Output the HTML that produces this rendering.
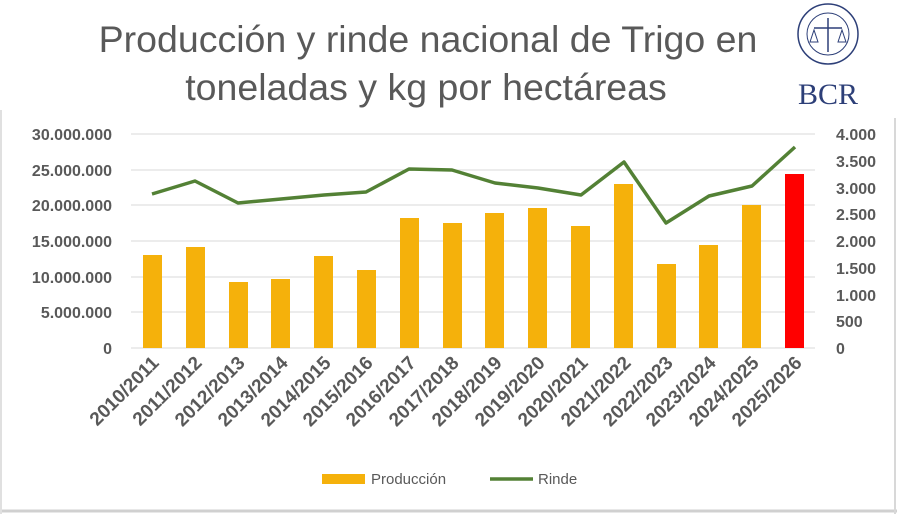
<!DOCTYPE html>
<html><head><meta charset="utf-8"><style>
body{margin:0;background:#fff;}
svg{display:block;font-family:"Liberation Sans",sans-serif;}
</style></head><body>
<svg width="897" height="514" viewBox="0 0 897 514">
<rect x="0" y="0" width="897" height="514" fill="#fff"/>
<line x1="0" y1="511" x2="897" y2="511" stroke="#d0d0d0" stroke-width="3"/>
<line x1="895" y1="0" x2="895" y2="514" stroke="#d8d8d8" stroke-width="2"/>
<line x1="1" y1="110" x2="1" y2="514" stroke="#e0e0e0" stroke-width="2"/>
<text x="428" y="52" text-anchor="middle" font-size="37.5" fill="#595959">Producción y rinde nacional de Trigo  en</text>
<text x="426" y="100" text-anchor="middle" font-size="37.5" fill="#595959">toneladas y kg por hectáreas</text>
<rect x="757" y="0" width="140" height="118" fill="#fff"/>
<g stroke="#2d3f78" fill="none">
<circle cx="828" cy="34" r="30" stroke-width="1.5"/>
<circle cx="828" cy="34" r="21" stroke-width="1"/>
<line x1="828" y1="18" x2="828" y2="52" stroke-width="1.5"/>
<line x1="814" y1="28" x2="842" y2="28" stroke-width="1.5"/>
<path d="M810 42 l4 -12 l4 12 z M838 42 l4 -12 l4 12 z" stroke-width="1"/>
</g>
<text x="828" y="104" text-anchor="middle" font-family="Liberation Serif,serif" font-size="30" fill="#2d3f78">BCR</text>
<g stroke="#d9d9d9" stroke-width="1">
<line x1="131" y1="134" x2="815" y2="134"/><line x1="131" y1="170" x2="815" y2="170"/>
<line x1="131" y1="205" x2="815" y2="205"/><line x1="131" y1="241" x2="815" y2="241"/>
<line x1="131" y1="277" x2="815" y2="277"/><line x1="131" y1="312" x2="815" y2="312"/>
<line x1="131" y1="348" x2="815" y2="348"/>
</g>
<g font-size="16" font-weight="bold" fill="#595959" text-anchor="end">
<text x="112" y="140">30.000.000</text><text x="112" y="176">25.000.000</text>
<text x="112" y="211">20.000.000</text><text x="112" y="247">15.000.000</text>
<text x="112" y="283">10.000.000</text><text x="112" y="318">5.000.000</text>
<text x="112" y="354">0</text>
</g>
<g font-size="16" font-weight="bold" fill="#595959">
<text x="836" y="140">4.000</text><text x="836" y="167">3.500</text>
<text x="836" y="194">3.000</text><text x="836" y="220">2.500</text>
<text x="836" y="247">2.000</text><text x="836" y="274">1.500</text>
<text x="836" y="301">1.000</text><text x="836" y="327">500</text>
<text x="836" y="354">0</text>
</g>
<g fill="#f5b10b">
<rect x="143" y="255" width="19" height="93"/>
<rect x="186" y="247" width="19" height="101"/>
<rect x="229" y="282" width="19" height="66"/>
<rect x="271" y="279" width="19" height="69"/>
<rect x="314" y="256" width="19" height="92"/>
<rect x="357" y="270" width="19" height="78"/>
<rect x="400" y="218" width="19" height="130"/>
<rect x="443" y="223" width="19" height="125"/>
<rect x="485" y="213" width="19" height="135"/>
<rect x="528" y="208" width="19" height="140"/>
<rect x="571" y="226" width="19" height="122"/>
<rect x="614" y="184" width="19" height="164"/>
<rect x="657" y="264" width="19" height="84"/>
<rect x="699" y="245" width="19" height="103"/>
<rect x="742" y="205" width="19" height="143"/>
</g>
<rect x="785" y="174" width="19" height="174" fill="#ff0000"/>
<polyline fill="none" stroke="#538135" stroke-width="3.5" stroke-linejoin="round" points="152,194 195,181 238,203 281,199 324,195 366,192 409,169 452,170 495,183 538,188 581,195 624,162 666,223 709,196 752,186 795,147"/>
<g font-size="19" font-weight="bold" fill="#595959" text-anchor="end">
<text transform="translate(160,364) rotate(-45)">2010/2011</text>
<text transform="translate(203,364) rotate(-45)">2011/2012</text>
<text transform="translate(246,364) rotate(-45)">2012/2013</text>
<text transform="translate(289,364) rotate(-45)">2013/2014</text>
<text transform="translate(332,364) rotate(-45)">2014/2015</text>
<text transform="translate(374,364) rotate(-45)">2015/2016</text>
<text transform="translate(417,364) rotate(-45)">2016/2017</text>
<text transform="translate(460,364) rotate(-45)">2017/2018</text>
<text transform="translate(503,364) rotate(-45)">2018/2019</text>
<text transform="translate(546,364) rotate(-45)">2019/2020</text>
<text transform="translate(589,364) rotate(-45)">2020/2021</text>
<text transform="translate(632,364) rotate(-45)">2021/2022</text>
<text transform="translate(674,364) rotate(-45)">2022/2023</text>
<text transform="translate(717,364) rotate(-45)">2023/2024</text>
<text transform="translate(760,364) rotate(-45)">2024/2025</text>
<text transform="translate(803,364) rotate(-45)">2025/2026</text>
</g>
<rect x="322" y="474" width="43" height="10" fill="#f5b10b"/>
<text x="371" y="484" font-size="15" fill="#595959">Producción</text>
<line x1="490" y1="479" x2="533" y2="479" stroke="#538135" stroke-width="3.5"/>
<text x="538" y="484" font-size="15" fill="#595959">Rinde</text>
</svg>
</body></html>
